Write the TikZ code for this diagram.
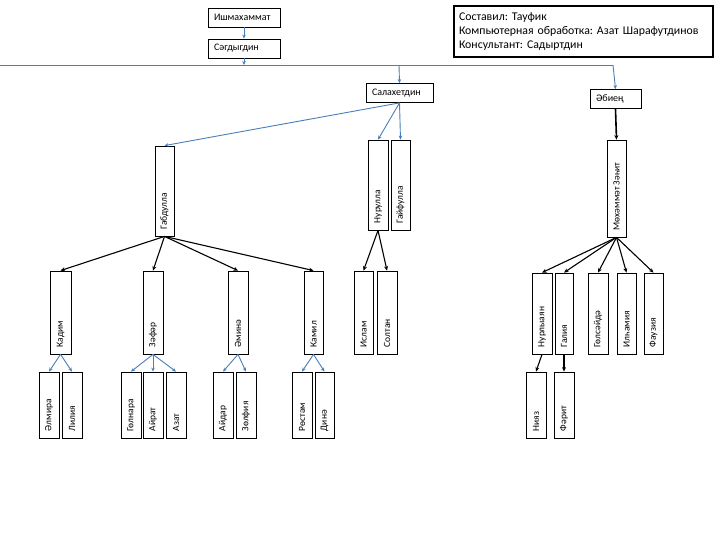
\documentclass[tikz,border=0pt]{standalone}
\usepackage{fontspec}
\setmainfont{Carlito}
\usetikzlibrary{arrows.meta}
\definecolor{lnblue}{RGB}{74,126,187}
\frenchspacing
\tikzset{
  box/.style={draw=black, line width=0.8pt, fill=white, inner sep=0pt},
  hbox/.style={box, minimum height=19pt, inner xsep=6pt, align=left, font=\fontsize{10}{11}\selectfont},
  vtext/.style={font=\fontsize{9.5}{11}\selectfont, rotate=90, anchor=west, inner sep=0pt},
  bluearr/.style={draw=lnblue, line width=0.9pt, -{Stealth[length=4pt,width=3.5pt]}},
  blackarr/.style={draw=black, line width=1.1pt, -{Stealth[length=4.5pt,width=4pt]}},
  infobox/.style={draw=black, line width=2pt, inner xsep=5pt, inner ysep=6.5pt, align=left,
    font=\fontsize{11.8}{13.8}\selectfont, anchor=north west, text width=249pt},
}
\newcommand{\famb}[6]{%
  \node[box, minimum width={(#3-#2)*1pt}, minimum height={(#5-#4)*1pt}] (#1) at ({(#2+#3)/2},{(#4+#5)/2}) {};
  \node[vtext] (#1t) at ([yshift=7pt]#1.south) {#6};
}
\begin{document}
\begin{tikzpicture}[x=1pt, y=-1pt]
\useasboundingbox (0,0) rectangle (720,540);

% top
\node[hbox, text width=60pt] (ish) at (244,17.5) {Ишмахаммат};
\node[hbox, text width=60pt] (sagd) at (244,48.5) {Сәгдыгдин};
\node[infobox] (info) at (453,5) {Составил: Тауфик\\Компьютерная обработка: Азат Шарафутдинов\\Консультант: Садыртдин};

\coordinate (hl) at (0,65);
\coordinate (hr) at (613,65);
\coordinate (hs) at (399,65);

\node[hbox, text width=55pt] (salah) at (399.5,93) {Салахетдин};
\node[hbox, text width=39pt] (abien) at (615.5,99) {Әбиең};

\draw[bluearr] (ish) -- (sagd);
\draw[bluearr] (sagd.south) -- (sagd.south |- hl);
\draw[draw=lnblue, line width=0.9pt] (hl) -- (hr);
\draw[bluearr] (hr) -- (abien.north);
\draw[bluearr] (hs) -- (salah.north);

% row 2
\famb{gabd}{155}{174}{146}{236}{Габдулла}
\famb{nur}{368}{388}{140}{230}{Нурулла}
\famb{gaif}{391}{410}{140}{230}{Гайфулла}
\famb{mz}{607}{626}{140}{237}{Мөхәммәт Зәһит}

\draw[bluearr] (salah.south) -- (gabd.north);
\draw[bluearr] (salah.south) -- (nur.north);
\draw[bluearr] (salah.south) -- (gaif.north);
\draw[blackarr, line width=1.6pt] (abien.south) -- (mz.north);

% row 3
\famb{kadim}{50}{71}{271}{354}{Кадим}
\famb{zafar}{143}{163}{271}{354}{Зәфәр}
\famb{amina}{228}{248}{271}{354}{Әминә}
\famb{kamil}{304}{323}{271}{354}{Камил}
\famb{islam}{354}{373}{271}{354}{Ислам}
\famb{soltan}{377}{397}{271}{354}{Солтан}
\famb{nurl}{532}{552}{273}{354}{Нурлыаян}
\famb{galia}{555}{573}{273}{354}{Галия}
\famb{gols}{588}{608}{273}{354}{Гөлсәйдә}
\famb{ilh}{617}{636}{273}{354}{Илһамия}
\famb{fauz}{644}{663}{273}{354}{Фаузия}

\foreach \t in {kadim,zafar,amina,kamil} \draw[blackarr] (gabd.south) -- (\t.north);
\foreach \t in {islam,soltan} \draw[blackarr] (nur.south) -- (\t.north);
\foreach \t in {nurl,galia,gols,ilh,fauz} \draw[blackarr] (mz.south) -- (\t.north);

% row 4
\famb{elmira}{39}{59}{372}{438}{Әлмира}
\famb{liliya}{62}{82}{372}{438}{Лилия}
\famb{golnara}{121}{141}{372}{438}{Гөлнара}
\famb{airat}{143}{163}{372}{438}{Айрат}
\famb{azat}{166}{186}{372}{438}{Азат}
\famb{aidar}{213}{233}{372}{438}{Айдар}
\famb{zolfiya}{236}{256}{372}{438}{Зөлфия}
\famb{rostam}{292}{312}{372}{438}{Рөстәм}
\famb{dina}{315}{334}{372}{438}{Динә}
\famb{niyaz}{526}{546}{372}{438}{Нияз}
\famb{farit}{554}{574}{372}{438}{Фәрит}

\foreach \t in {elmira,liliya} \draw[bluearr] (kadim.south) -- (\t.north);
\foreach \t in {golnara,airat,azat} \draw[bluearr] (zafar.south) -- (\t.north);
\foreach \t in {aidar,zolfiya} \draw[bluearr] (amina.south) -- (\t.north);
\foreach \t in {rostam,dina} \draw[bluearr] (kamil.south) -- (\t.north);
\draw[blackarr] (nurl.south) -- (niyaz.north);
\draw[blackarr] (galia.south) -- (farit.north);
\end{tikzpicture}
\end{document}
